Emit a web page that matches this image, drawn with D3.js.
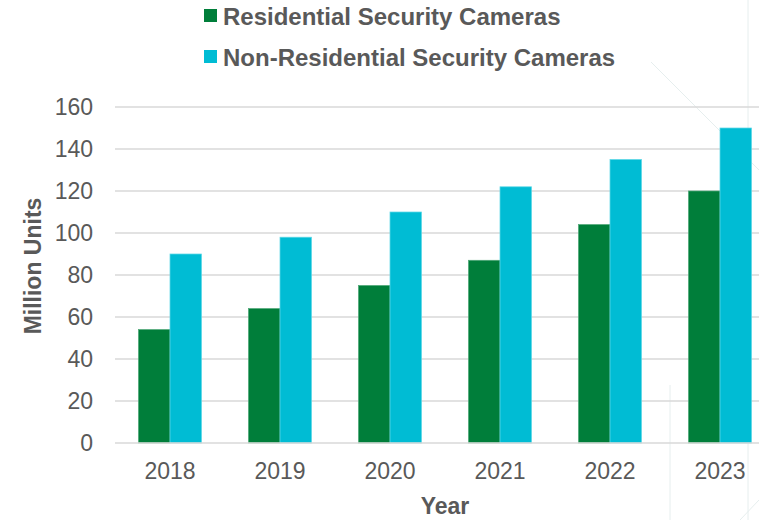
<!DOCTYPE html>
<html>
<head>
<meta charset="utf-8">
<script src="https://cdn.jsdelivr.net/npm/d3@7"></script>
<style>
  body { margin: 0; background: #fff; }
  text { font-family: "Liberation Sans", Arial, sans-serif; fill: #595959; }
</style>
</head>
<body>
<div id="chart"></div>
<script>
// chart data
const years = ["2018", "2019", "2020", "2021", "2022", "2023"];
const residential = [54, 64, 75, 87, 104, 120];
const nonResidential = [90, 98, 110, 122, 135, 150];
const seriesNames = ["Residential Security Cameras", "Non-Residential Security Cameras"];
const yTicks = [0, 20, 40, 60, 80, 100, 120, 140, 160];

const colors = ["#007e3a", "#00bcd4"];
const strokes = ["#4fa877", "#5fd8e6"];

const width = 759, height = 520;
const margin = {top: 107, right: -16, bottom: 77, left: 115};

const svg = d3.select("#chart").append("svg")
  .attr("width", width)
  .attr("height", height);

// faint decorative background lines
const deco = svg.append("g").attr("stroke", "#e6eeee").attr("fill", "none").attr("stroke-width", 1);
deco.append("line").attr("x1", 651).attr("y1", 62).attr("x2", 759).attr("y2", 170);
deco.append("line").attr("x1", 748).attr("y1", 0).attr("x2", 748).attr("y2", 520);
deco.append("line").attr("x1", 670).attr("y1", 385).attr("x2", 670).attr("y2", 520);
deco.append("line").attr("x1", 740).attr("y1", 520).attr("x2", 759).attr("y2", 500);

const x = d3.scaleBand()
  .domain(years)
  .range([margin.left, width - margin.right])
  .paddingInner(0.427)
  .paddingOuter(0.2135);

const xSub = d3.scaleBand()
  .domain([0, 1])
  .range([0, x.bandwidth()]);

const y = d3.scaleLinear()
  .domain([0, 160])
  .range([height - margin.bottom, margin.top]);

// gridlines
svg.append("g")
  .selectAll("line")
  .data(yTicks.filter(d => d > 0))
  .join("line")
    .attr("x1", margin.left)
    .attr("x2", width)
    .attr("y1", d => y(d))
    .attr("y2", d => y(d))
    .attr("stroke", "#d9d9d9")
    .attr("stroke-width", 1.5);

// bars
const groups = svg.append("g")
  .selectAll("g")
  .data(years.map((yr, i) => ({year: yr, values: [residential[i], nonResidential[i]]})))
  .join("g")
    .attr("transform", d => `translate(${x(d.year)},0)`);

groups.selectAll("rect")
  .data(d => d.values.map((v, i) => ({v, i})))
  .join("rect")
    .attr("x", d => xSub(d.i))
    .attr("y", d => y(d.v))
    .attr("width", xSub.bandwidth())
    .attr("height", d => y(0) - y(d.v))
    .attr("fill", d => colors[d.i])
    .attr("stroke", d => strokes[d.i])
    .attr("stroke-width", 0.75);

// baseline
svg.append("line")
  .attr("x1", margin.left).attr("x2", width)
  .attr("y1", y(0)).attr("y2", y(0))
  .attr("stroke", "#d9d9d9").attr("stroke-width", 1.5);

// y axis labels
const yAxis = svg.append("g")
  .attr("transform", `translate(${margin.left},0)`)
  .call(d3.axisLeft(y).tickValues(yTicks).tickSize(0).tickPadding(22));
yAxis.select(".domain").remove();
yAxis.selectAll("text").style("font-size", "23px").attr("fill", "#595959");

// x axis labels
const xAxis = svg.append("g")
  .attr("transform", `translate(0,${y(0)})`)
  .call(d3.axisBottom(x).tickSize(0).tickPadding(20));
xAxis.select(".domain").remove();
xAxis.selectAll("text").style("font-size", "23px").attr("fill", "#595959");

// axis titles
svg.append("text")
  .attr("x", 445).attr("y", 514)
  .attr("text-anchor", "middle")
  .style("font-size", "23px").style("font-weight", "bold")
  .text("Year");

svg.append("text")
  .attr("transform", "translate(41,266) rotate(-90)")
  .attr("text-anchor", "middle")
  .style("font-size", "23px").style("font-weight", "bold")
  .text("Million Units");

// legend
const legend = svg.append("g")
  .selectAll("g")
  .data(seriesNames)
  .join("g")
    .attr("transform", (d, i) => `translate(204,${9 + i * 41})`);

legend.append("rect")
  .attr("width", 13).attr("height", 13)
  .attr("fill", (d, i) => colors[i]);

legend.append("text")
  .attr("x", 19).attr("y", 16)
  .style("font-size", "24px").style("font-weight", "bold")
  .text(d => d);
</script>
</body>
</html>
